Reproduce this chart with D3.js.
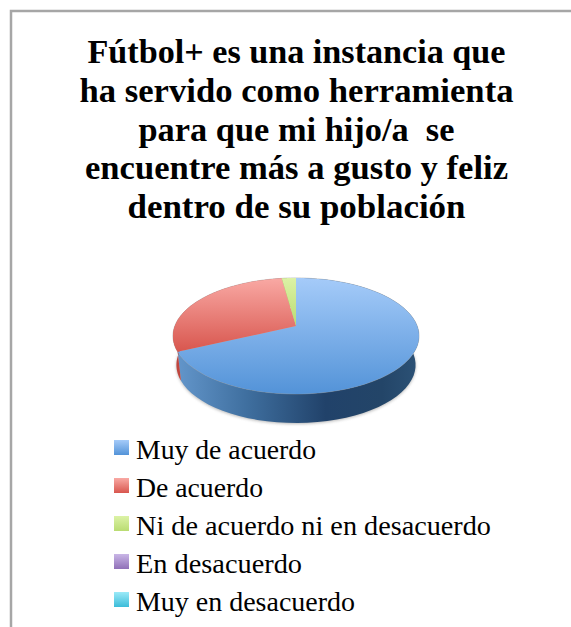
<!DOCTYPE html>
<html><head><meta charset="utf-8">
<script src="https://cdn.jsdelivr.net/npm/d3@7"></script>
<style>html,body{margin:0;padding:0;background:#fff;overflow:hidden}svg{display:block}</style>
</head><body><svg id="c" width="571" height="627"></svg>
<script>
const titleLines = ["Fútbol+ es una instancia que","ha servido como herramienta","para que mi hijo/a  se","encuentre más a gusto y feliz","dentro de su población"];
const titleWidths = [418,434,316,423,338];
const categories = ["Muy de acuerdo","De acuerdo","Ni de acuerdo ni en desacuerdo","En desacuerdo","Muy en desacuerdo"];
const legendWidths = [180,127,355,166,219];
const values = [68,29.8,2.2,0,0];
const topColors = [["#a5cbf9","#5393d8"],["#f9a9a4","#d8564e"],["#dcf2a6","#b9dc72"],["#c9b6e6","#9070b8"],["#9beaf8","#3bbcd9"]];
const wallColors = ["#3a6a9c","#c0453e","#9ab85c","#6d5590","#2b93ab"];

const svg = d3.select("#c");
const defs = svg.append("defs");
const W = 571, H = 627;

// frame
svg.append("path").attr("d",d3.line()([[W,11],[11,11],[11,H]])).attr("fill","none").attr("stroke","#a6a6a6").attr("stroke-width",2.5);

// title
const fontFam = "'Liberation Serif',serif";
svg.append("g").selectAll("text").data(titleLines).join("text")
  .attr("x",296.5).attr("y",(d,i)=>63+i*38.8).attr("text-anchor","middle")
  .attr("font-family",fontFam).attr("font-weight","bold").attr("font-size",33).attr("fill","#000")
  .attr("textLength",(d,i)=>titleWidths[i]).attr("lengthAdjust","spacingAndGlyphs")
  .style("white-space","pre").text(d=>d);

// perspective projection of the pie's disc; the lower rim sits slightly narrower
const cx=296, apexY=326, depth=29, persp=0.172, kY=56.3, R=121.2, lowerScale=0.972;
const project = (a, r=1, dz=0) => {
  const u=r*Math.sin(a), v=-r*Math.cos(a), w=1-persp*v, sx=dz?lowerScale:1;
  return [cx+sx*R*u/w, apexY+kY*v/w+dz];
};
const slices = d3.pie().value(d=>d).sort(null)(values);
const line = d3.line();
const rim = (s,dz=0) => d3.range(0,61).map(i=>project(s.startAngle+(s.endAngle-s.startAngle)*i/60,1,dz));

defs.append("filter").attr("id","soft").attr("x","-20%").attr("y","-20%").attr("width","140%").attr("height","140%")
  .append("feGaussianBlur").attr("stdDeviation",1.6);
defs.append("filter").attr("id","edge").append("feGaussianBlur").attr("stdDeviation",0.5);

topColors.forEach((c,i)=>{
  const g=defs.append("linearGradient").attr("id","top"+i).attr("gradientUnits","userSpaceOnUse")
    .attr("x1",0).attr("x2",0).attr("y1",278).attr("y2",394);
  g.append("stop").attr("offset",0).attr("stop-color",c[0]);
  g.append("stop").attr("offset",1).attr("stop-color",c[1]);
  const l=defs.append("linearGradient").attr("id","leg"+i).attr("x1",0).attr("x2",0).attr("y1",0).attr("y2",1);
  l.append("stop").attr("offset",0).attr("stop-color",c[0]);
  l.append("stop").attr("offset",1).attr("stop-color",c[1]);
});
defs.select("#top1").attr("y2",352);
defs.select("#top2").attr("y2",326);
const wg=defs.append("linearGradient").attr("id","wall0").attr("gradientUnits","userSpaceOnUse")
  .attr("x1",173).attr("x2",419).attr("y1",0).attr("y2",0);
[[0,"#6598cd"],[0.3,"#3f6f9f"],[0.62,"#21426a"],[0.85,"#234568"],[1,"#2c5276"]].forEach(s=>wg.append("stop").attr("offset",s[0]).attr("stop-color",s[1]));

const pie = svg.append("g");
// ground shadow
const whole = d3.range(0,121).map(i=>project(i/120*2*Math.PI,1,depth+1));
pie.append("path").attr("d",line(whole)+"Z").attr("fill","#8a8a8a").attr("opacity",0.6).attr("filter","url(#soft)");

// walls, back to front
pie.selectAll("path.wall").data(slices.filter(s=>s.value>0)).join("path").attr("class","wall")
  .attr("d",s=>line(rim(s).concat(rim(s,depth).reverse()))+"Z")
  .attr("fill",(s,i)=>i===0?"url(#wall0)":wallColors[s.index]);

// faint rim glow around the top
pie.append("path").attr("d",line(d3.range(0,121).map(i=>project(i/120*2*Math.PI)))+"Z")
  .attr("fill","none").attr("stroke","#999").attr("stroke-width",1).attr("opacity",0.5).attr("filter","url(#edge)");

// faces
pie.selectAll("path.face").data(slices.filter(s=>s.value>0)).join("path").attr("class","face")
  .attr("d",s=>line([project(0,0)].concat(rim(s)))+"Z")
  .attr("fill",s=>`url(#top${s.index})`);

// legend
const legend = svg.append("g").selectAll("g").data(categories).join("g")
  .attr("transform",(d,i)=>`translate(114,${440+i*38})`);
legend.append("rect").attr("width",15).attr("height",15).attr("fill",(d,i)=>`url(#leg${i})`);
legend.append("text").attr("x",22).attr("y",18.5).attr("font-family",fontFam).attr("font-size",27).attr("fill","#000")
  .attr("textLength",(d,i)=>legendWidths[i]).attr("lengthAdjust","spacingAndGlyphs").text(d=>d);
</script></body></html>
